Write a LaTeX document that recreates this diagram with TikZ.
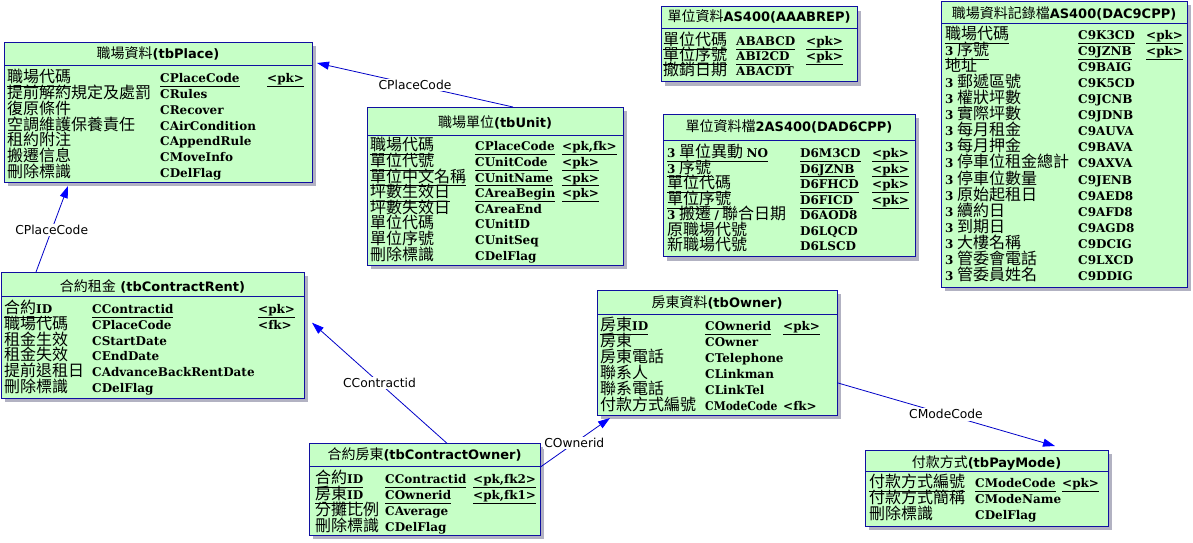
\documentclass[tikz,border=0pt]{standalone}
\usepackage{fontspec}
\usepackage{graphicx}
\setmainfont{DejaVu Sans}
\newfontfamily\cjk{Noto Sans CJK TC}
\newfontfamily\codefam{DejaVu Serif}
\usetikzlibrary{arrows.meta}
\definecolor{boxfill}{RGB}{198,255,198}
\definecolor{boxline}{RGB}{16,16,160}
\definecolor{shadowc}{RGB}{178,178,194}
\definecolor{linec}{RGB}{0,0,200}
\definecolor{arrowc}{RGB}{0,0,255}
\newcommand\cf{\codefam\bfseries\fontsize{12}{14}\selectfont}
\newcommand\nmf{\cjk\fontsize{16}{16}\selectfont}
\newcommand\lt[1]{{\cf #1}}
\newcommand\nar[1]{\scalebox{0.9}[1]{#1}}
\newsavebox\ulbox
\newcommand\ulx[1]{\sbox\ulbox{#1}\rlap{\rule[-4.3pt]{\wd\ulbox}{0.9pt}}\usebox\ulbox}
\newcommand\ttl[2]{{\cjk\fontsize{14}{16}\selectfont #1}{\bfseries\fontsize{13}{15}\selectfont #2}}
\tikzset{
  tblbox/.style={draw=boxline, fill=boxfill, line width=0.9pt, inner sep=0pt, outer sep=0pt},
  tblline/.style={draw=boxline, line width=0.9pt},
  titletxt/.style={anchor=base, inner sep=0pt},
  rowtxt/.style={anchor=base west, inner sep=0pt},
  conn/.style={draw=linec, line width=0.8pt, -{Triangle[length=12pt,width=8pt,color=arrowc]}},
  lbl/.style={fill=white, inner sep=1.5pt, font=\fontsize{12.3}{14}\selectfont}
}
\newcommand\ertable[8]{%
  \fill[shadowc] (#2+4,#3+4) rectangle (#2+#4+4,#3+#5+4);
  \node[tblbox, minimum width=#4pt, minimum height=#5pt, anchor=north west] (#1) at (#2,#3) {};
  \draw[tblline] (#2,#7) -- (#2+#4,#7);
  \node[titletxt] (#1-title) at (#2+#4/2,#6) {#8};
}
\newcommand\rw[5]{%
  \node[rowtxt] (#1a) at (\cA,#2) {\nmf #3};
  \node[rowtxt] (#1b) at (\cB,#2) {\cf #4};
  \node[rowtxt] (#1c) at (\cC,#2) {\cf #5};
}
\begin{document}
\begin{tikzpicture}[x=1pt,y=-1pt]
\fill[white] (0,0) rectangle (1193,542);
\useasboundingbox (0,0) rectangle (1193,542);

% tbPlace
\ertable{place}{4}{42}{308}{140}{58.6}{65}{\ttl{職場資料}{(tbPlace)}}
\def\cA{7}\def\cB{160}\def\cC{267}
\rw{p1}{82.5}{\ulx{職場代碼}}{\ulx{CPlaceCode}}{\ulx{<pk>}}
\rw{p2}{98.3}{提前解約規定及處罰}{CRules}{}
\rw{p3}{114.2}{復原條件}{CRecover}{}
\rw{p4}{130.0}{空調維護保養責任}{CAirCondition}{}
\rw{p5}{145.8}{租約附注}{CAppendRule}{}
\rw{p6}{161.7}{搬遷信息}{CMoveInfo}{}
\rw{p7}{177.5}{刪除標識}{CDelFlag}{}

% tbUnit
\ertable{unit}{367}{107}{256}{158}{127}{135}{\ttl{職場單位}{(tbUnit)}}
\def\cA{370}\def\cB{475}\def\cC{562}
\rw{u1}{150.8}{\ulx{職場代碼}}{\ulx{CPlaceCode}}{\ulx{<pk,fk>}}
\rw{u2}{166.4}{\ulx{單位代號}}{\ulx{CUnitCode}}{\ulx{<pk>}}
\rw{u3}{182.0}{\ulx{單位中文名稱}}{\ulx{CUnitName}}{\ulx{<pk>}}
\rw{u4}{197.6}{\ulx{坪數生效日}}{\ulx{CAreaBegin}}{\ulx{<pk>}}
\rw{u5}{213.2}{坪數失效日}{CAreaEnd}{}
\rw{u6}{228.8}{單位代碼}{CUnitID}{}
\rw{u7}{244.4}{單位序號}{CUnitSeq}{}
\rw{u8}{260.0}{刪除標識}{CDelFlag}{}

% tbContractRent
\ertable{rent}{1}{272}{303}{126}{291.3}{296.7}{\ttl{合約租金}{ (tbContractRent)}}
\def\cA{4}\def\cB{92}\def\cC{258}
\rw{r1}{313.5}{\ulx{合約\lt{ID}}}{\ulx{CContractid}}{\ulx{<pk>}}
\rw{r2}{329.3}{職場代碼}{CPlaceCode}{<fk>}
\rw{r3}{345.1}{租金生效}{CStartDate}{}
\rw{r4}{360.9}{租金失效}{CEndDate}{}
\rw{r5}{376.7}{提前退租日}{CAdvanceBackRentDate}{}
\rw{r6}{392.5}{刪除標識}{CDelFlag}{}

% AAABREP
\ertable{aaab}{661}{6.5}{196}{75.2}{21.8}{28.3}{\ttl{單位資料}{AS400(AAABREP)}}
\def\cA{663}\def\cB{736}\def\cC{806}
\rw{a1}{45.1}{\ulx{單位代碼}}{\ulx{ABABCD}}{\ulx{<pk>}}
\rw{a2}{60.5}{\ulx{單位序號}}{\ulx{ABI2CD}}{\ulx{<pk>}}
\rw{a3}{75.8}{撤銷日期}{ABACDT}{}

% DAD6CPP
\ertable{dad}{663}{114}{252}{142.7}{131.3}{140}{\ttl{單位資料檔}{2AS400(DAD6CPP)}}
\def\cA{667}\def\cB{800}\def\cC{872}
\rw{d1}{157.5}{\ulx{\lt{3}\ 單位異動\ \lt{NO}}}{\ulx{D6M3CD}}{\ulx{<pk>}}
\rw{d2}{173.0}{\ulx{\lt{3}\ 序號}}{\ulx{D6JZNB}}{\ulx{<pk>}}
\rw{d3}{188.6}{\ulx{單位代碼}}{\ulx{D6FHCD}}{\ulx{<pk>}}
\rw{d4}{204.1}{\ulx{單位序號}}{\ulx{D6FICD}}{\ulx{<pk>}}
\rw{d5}{219.7}{\lt{3}\ 搬遷\ \lt{/}\hspace{3pt}聯合日期}{D6AOD8}{}
\rw{d6}{235.2}{原職場代號}{D6LQCD}{}
\rw{d7}{250.8}{新職場代號}{D6LSCD}{}

% DAC9CPP
\ertable{dac}{941}{1}{246}{286}{18}{23.5}{\ttl{職場資料記錄檔}{AS400(DAC9CPP)}}
\def\cA{945}\def\cB{1078}\def\cC{1146}
\rw{c1}{39.1}{\ulx{職場代碼}}{\ulx{C9K3CD}}{\ulx{<pk>}}
\rw{c2}{55.2}{\ulx{\lt{3}\ 序號}}{\ulx{C9JZNB}}{\ulx{<pk>}}
\rw{c3}{71.3}{地址}{C9BAIG}{}
\rw{c4}{87.4}{\lt{3}\ 郵遞區號}{C9K5CD}{}
\rw{c5}{103.5}{\lt{3}\ 權狀坪數}{C9JCNB}{}
\rw{c6}{119.6}{\lt{3}\ 實際坪數}{C9JDNB}{}
\rw{c7}{135.7}{\lt{3}\ 每月租金}{C9AUVA}{}
\rw{c8}{151.8}{\lt{3}\ 每月押金}{C9BAVA}{}
\rw{c9}{167.9}{\lt{3}\ 停車位租金總計}{C9AXVA}{}
\rw{c10}{184.0}{\lt{3}\ 停車位數量}{C9JENB}{}
\rw{c11}{200.1}{\lt{3}\ 原始起租日}{C9AED8}{}
\rw{c12}{216.2}{\lt{3}\ 續約日}{C9AFD8}{}
\rw{c13}{232.3}{\lt{3}\ 到期日}{C9AGD8}{}
\rw{c14}{248.4}{\lt{3}\ 大樓名稱}{C9DCIG}{}
\rw{c15}{264.5}{\lt{3}\ 管委會電話}{C9LXCD}{}
\rw{c16}{280.6}{\lt{3}\ 管委員姓名}{C9DDIG}{}

% tbOwner
\ertable{owner}{597}{290}{240}{125}{307}{314.3}{\ttl{房東資料}{(tbOwner)}}
\def\cA{600}\def\cB{705}\def\cC{783}
\rw{o1}{330.8}{\ulx{房東\lt{ID}}}{\ulx{COwnerid}}{\ulx{<pk>}}
\rw{o2}{346.7}{房東}{COwner}{}
\rw{o3}{362.5}{房東電話}{CTelephone}{}
\rw{o4}{378.4}{聯系人}{CLinkman}{}
\rw{o5}{394.2}{聯系電話}{CLinkTel}{}
\rw{o6}{410.1}{付款方式編號}{\nar{CModeCode}}{<fk>}

% tbContractOwner
\ertable{cowner}{309}{443.3}{231}{91.7}{459.3}{466.7}{\ttl{合約房東}{(tbContractOwner)}}
\def\cA{315}\def\cB{385}\def\cC{473}
\rw{w1}{483.3}{\ulx{合約\lt{ID}}}{\ulx{CContractid}}{\ulx{<pk,fk2>}}
\rw{w2}{499.3}{\ulx{房東\lt{ID}}}{\ulx{COwnerid}}{\ulx{<pk,fk1>}}
\rw{w3}{515.3}{分攤比例}{CAverage}{}
\rw{w4}{531.3}{刪除標識}{CDelFlag}{}

% tbPayMode
\ertable{pay}{865}{450}{243}{76}{467}{471.7}{\ttl{付款方式}{(tbPayMode)}}
\def\cA{869}\def\cB{975}\def\cC{1062}
\rw{m1}{487.5}{\ulx{付款方式編號}}{\ulx{CModeCode}}{\ulx{<pk>}}
\rw{m2}{503.1}{付款方式簡稱}{CModeName}{}
\rw{m3}{519.1}{刪除標識}{CDelFlag}{}

% connectors
\draw[conn] ([xshift=146pt]unit.north west) -- node[lbl, pos=0.5] (l1) {CPlaceCode} ([shift={(5pt,-21pt)}]place.north east);
\draw[conn] ([xshift=35pt]rent.north west) -- node[lbl, pos=0.49] (l2) {CPlaceCode} ([shift={(64pt,-4pt)}]place.south west);
\draw[conn] ([xshift=138pt]cowner.north west) -- node[lbl, pos=0.5] (l3) {CContractid} ([shift={(8pt,-50.7pt)}]rent.north east);
\draw[conn] ([yshift=-24pt]cowner.north east) -- node[lbl, pos=0.49] (l4) {COwnerid} ([shift={(13pt,-3pt)}]owner.south west);
\draw[conn] ([yshift=-92.7pt]owner.north east) -- node[lbl, pos=0.5] (l5) {CModeCode} ([shift={(190pt,4pt)}]pay.north west);
\end{tikzpicture}
\end{document}
